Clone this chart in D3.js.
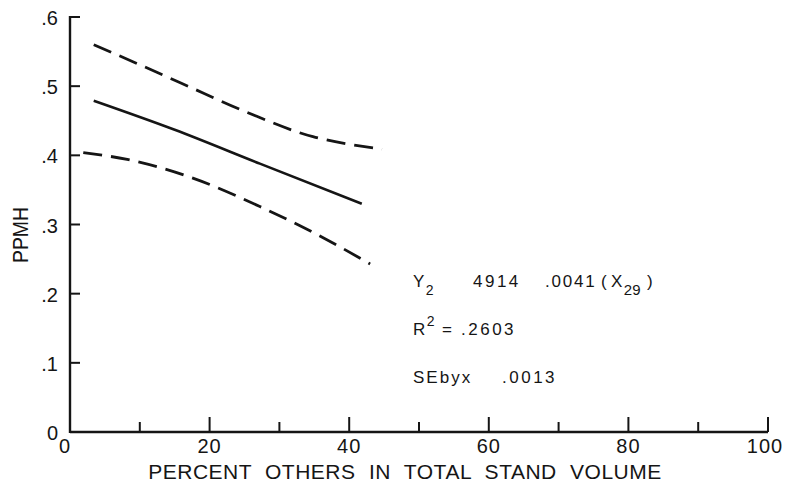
<!DOCTYPE html>
<html><head><meta charset="utf-8">
<script src="https://cdn.jsdelivr.net/npm/d3@7"></script>
<style>body{margin:0;background:#fff}svg{display:block}text{font-family:"Liberation Sans","DejaVu Sans",sans-serif;fill:#151515}</style>
</head><body><svg id="c" width="789" height="486"></svg>
<script>
const xTicks=[0,20,40,60,80,100];
const xMinor=[10,30,50,70,90];
const yTicks=[0,.1,.2,.3,.4,.5,.6];
const yTickLabels=["0",".1",".2",".3",".4",".5",".6"];
const fitLine=[[3.4,.479],[15,.437],[27.2,.388],[41.8,.33]];
const upperBand=[[3.4,.56],[10,.531],[15.8,.505],[25.4,.462],[34.8,.427],[40,.416],[44.7,.409]];
const lowerBand=[[1.9,.404],[8.2,.394],[17.6,.367],[27.2,.326],[36.8,.278],[43,.243]];

const svg=d3.select("#c");
const x=d3.scaleLinear().domain([0,100]).range([70,768]);
const y=d3.scaleLinear().domain([0,.6]).range([432,17]);
const ink="#151515";

svg.append("line").attr("x1",x(0)).attr("x2",x(100)).attr("y1",y(0)).attr("y2",y(0)).attr("stroke",ink).attr("stroke-width",2.4);
svg.append("line").attr("x1",x(0)).attr("x2",x(0)).attr("y1",y(0)+1).attr("y2",y(.6)-1).attr("stroke",ink).attr("stroke-width",2.4);
svg.selectAll(".xt").data(xTicks.filter(d=>d>0)).enter().append("line")
 .attr("x1",d=>x(d)).attr("x2",d=>x(d)).attr("y1",y(0)).attr("y2",y(0)-15).attr("stroke",ink).attr("stroke-width",2);
svg.selectAll(".xm").data(xMinor).enter().append("line")
 .attr("x1",d=>x(d)).attr("x2",d=>x(d)).attr("y1",y(0)).attr("y2",y(0)-10).attr("stroke",ink).attr("stroke-width",2);
svg.selectAll(".xl").data(xTicks).enter().append("text")
 .attr("x",d=>x(d)+(d===0?-5:(d===100?-3:0))).attr("y",y(0)+21).attr("text-anchor","middle").attr("font-size",20).attr("letter-spacing",1).text(d=>d);
svg.selectAll(".yt").data(yTicks.filter(d=>d>0)).enter().append("line")
 .attr("x1",x(0)).attr("x2",x(0)+10).attr("y1",d=>y(d)).attr("y2",d=>y(d)).attr("stroke",ink).attr("stroke-width",2);
svg.selectAll(".yl").data(yTicks).enter().append("text")
 .attr("x",x(0)-12).attr("y",d=>y(d)+8).attr("text-anchor","end").attr("font-size",20).text((d,i)=>yTickLabels[i]);

svg.append("text").attr("transform","translate(28,235) rotate(-90)").attr("text-anchor","middle").attr("font-size",22).attr("textLength",56).attr("lengthAdjust","spacingAndGlyphs").text("PPMH");
svg.append("text").attr("x",405).attr("y",479).attr("text-anchor","middle").attr("font-size",21).attr("letter-spacing",0.5).attr("word-spacing",7).text("PERCENT OTHERS IN TOTAL STAND VOLUME");

const line=d3.line().x(d=>x(d[0])).y(d=>y(d[1])).curve(d3.curveMonotoneX);
svg.append("path").attr("d",line(fitLine)).attr("fill","none").attr("stroke",ink).attr("stroke-width",2.6);
[upperBand,lowerBand].forEach(b=>svg.append("path").attr("d",line(b)).attr("fill","none").attr("stroke",ink).attr("stroke-width",2.8).attr("stroke-dasharray","19,9"));

const a=svg.append("g").attr("font-size",17).attr("letter-spacing",1.5);
let t=a.append("text").attr("x",413).attr("y",287);
t.append("tspan").text("Y");
t.append("tspan").attr("dy",8).attr("font-size",14).text("2");
a.append("text").attr("x",473).attr("y",287).attr("letter-spacing",2.5).text("4914");
a.append("text").attr("x",545).attr("y",287).attr("letter-spacing",1.8).text(".0041");
a.append("text").attr("x",601).attr("y",287).attr("letter-spacing",0).text("(");
let t2=a.append("text").attr("x",611).attr("y",287);
t2.append("tspan").text("X");
t2.append("tspan").attr("dy",8).attr("font-size",15).attr("letter-spacing",0).text("29");
a.append("text").attr("x",647).attr("y",287).attr("letter-spacing",0).text(")");
let t3=a.append("text").attr("x",413).attr("y",335);
t3.append("tspan").text("R");
t3.append("tspan").attr("dy",-9).attr("font-size",14).text("2");
a.append("text").attr("x",442).attr("y",335).text("=");
a.append("text").attr("x",461).attr("y",335).attr("letter-spacing",2.5).text(".2603");
a.append("text").attr("x",413).attr("y",383).attr("letter-spacing",2).text("SEbyx");
a.append("text").attr("x",502).attr("y",383).attr("letter-spacing",2.5).text(".0013");
</script></body></html>
